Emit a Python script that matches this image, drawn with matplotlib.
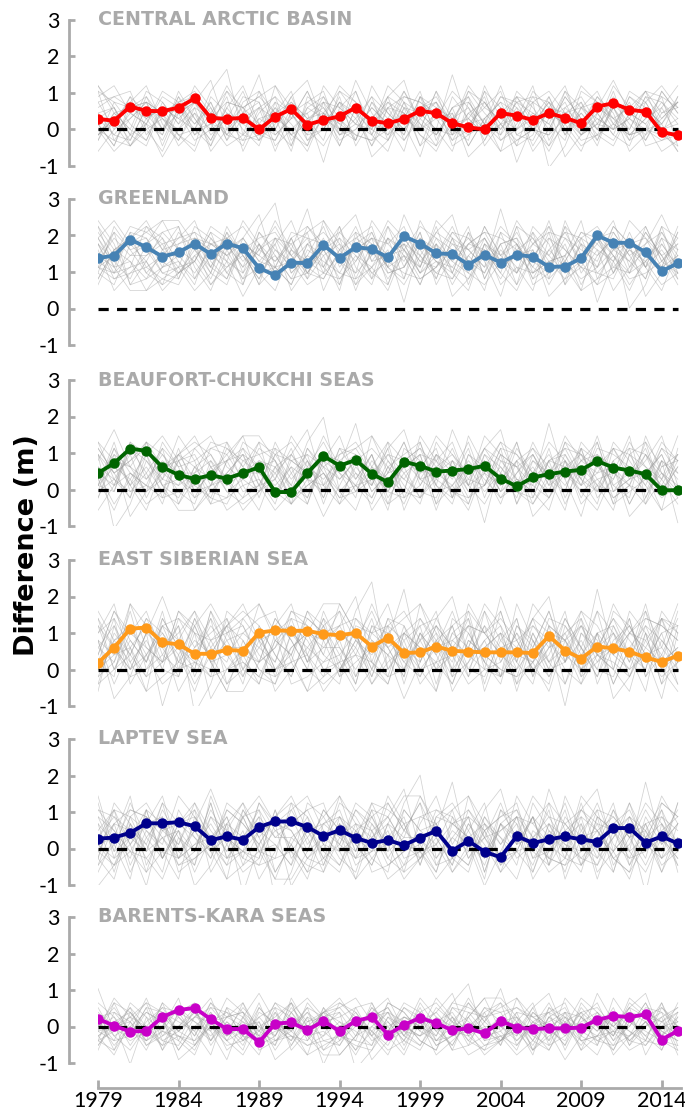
import numpy as np
import matplotlib
matplotlib.use("Agg")
import matplotlib.pyplot as plt

years = list(range(1979, 2016))
xtick_years = [1979, 1984, 1989, 1994, 1999, 2004, 2009, 2014]
regions = ["CENTRAL ARCTIC BASIN", "GREENLAND", "BEAUFORT-CHUKCHI SEAS",
           "EAST SIBERIAN SEA", "LAPTEV SEA", "BARENTS-KARA SEAS"]
colors = ["#ff0000", "#4682b4", "#006400", "#ff9a1a", "#00008b", "#c800c8"]

central = [0.29, 0.24, 0.63, 0.51, 0.50, 0.60, 0.85, 0.32, 0.29, 0.32, 0.00, 0.35, 0.56,
           0.13, 0.26, 0.36, 0.60, 0.24, 0.17, 0.29, 0.51, 0.45, 0.17, 0.06, 0.00, 0.45,
           0.38, 0.26, 0.45, 0.32, 0.17, 0.63, 0.72, 0.54, 0.49, -0.07, -0.16]
greenland = [1.38, 1.45, 1.89, 1.68, 1.42, 1.54, 1.78, 1.49, 1.78, 1.65, 1.11, 0.91, 1.26,
             1.24, 1.74, 1.38, 1.68, 1.63, 1.40, 1.98, 1.78, 1.51, 1.49, 1.20, 1.47, 1.26,
             1.47, 1.42, 1.14, 1.15, 1.38, 2.00, 1.80, 1.80, 1.54, 1.02, 1.24]
beaufort = [0.45, 0.72, 1.12, 1.06, 0.61, 0.40, 0.29, 0.39, 0.30, 0.45, 0.61, -0.07, -0.07,
            0.45, 0.92, 0.65, 0.81, 0.43, 0.20, 0.76, 0.65, 0.49, 0.52, 0.56, 0.65, 0.30,
            0.09, 0.33, 0.42, 0.49, 0.54, 0.78, 0.60, 0.52, 0.42, -0.02, -0.02]
east_siberian = [0.18, 0.60, 1.12, 1.15, 0.74, 0.69, 0.43, 0.43, 0.54, 0.51, 1.01, 1.07, 1.06,
                 1.06, 0.97, 0.94, 1.00, 0.63, 0.87, 0.45, 0.47, 0.63, 0.51, 0.49, 0.47, 0.47,
                 0.47, 0.45, 0.92, 0.52, 0.30, 0.63, 0.58, 0.49, 0.33, 0.21, 0.38]
laptev = [0.27, 0.30, 0.43, 0.69, 0.69, 0.72, 0.61, 0.23, 0.33, 0.24, 0.59, 0.74, 0.74,
          0.59, 0.34, 0.50, 0.29, 0.15, 0.23, 0.09, 0.30, 0.48, -0.06, 0.21, -0.09, -0.24,
          0.34, 0.15, 0.25, 0.33, 0.25, 0.18, 0.56, 0.56, 0.16, 0.33, 0.14]
barents = [0.21, 0.02, -0.14, -0.12, 0.26, 0.45, 0.51, 0.20, -0.07, -0.07, -0.43, 0.08, 0.11,
           -0.10, 0.15, -0.13, 0.15, 0.26, -0.22, 0.04, 0.24, 0.09, -0.10, -0.05, -0.19, 0.15,
           -0.03, -0.07, -0.05, -0.05, -0.03, 0.18, 0.29, 0.26, 0.33, -0.36, -0.12]
series = [central, greenland, beaufort, east_siberian, laptev, barents]

# approximate centre and spread of the grey ensemble members in each panel
member_centre = [0.30, 1.45, 0.45, 0.60, 0.30, 0.00]
member_spread = [0.15, 0.16, 0.17, 0.20, 0.19, 0.13]

# estimated member deviation shapes (tenths)
d1 = [3,-2,4,1,-3,5,0,-4,2,6,-1,3,-5,2,4,-2,7,1,-3,0,5,-4,2,3,-1,6,-2,0,4,-3,2,5,-1,3,-4,1,2]
d2 = [-4,1,-2,5,3,-1,6,2,-3,1,8,-2,3,0,-4,5,1,-2,6,3,-5,2,0,4,-1,-3,5,2,-2,4,0,-4,3,1,5,-2,-1]
d3 = [5,3,-1,-4,2,0,3,7,-2,-5,2,4,1,-3,6,2,-1,4,-4,3,1,-2,8,-1,2,5,-3,-1,2,6,-2,1,-3,4,2,-1,3]
d4 = [-1,-5,2,3,-2,4,-3,1,5,0,-4,6,2,-1,3,-5,2,0,4,7,-2,1,-3,5,3,-1,0,6,-4,1,3,-2,5,-3,0,4,-5]
d5 = [2,4,5,-2,-6,1,3,-1,-2,4,3,-3,0,5,-1,3,-4,6,1,-2,2,4,-1,-3,5,2,-5,3,1,-1,6,3,-2,0,-3,5,1]
d6 = [-6,-2,0,3,1,-3,-5,4,1,-1,2,0,-6,4,2,-2,-4,3,0,5,-1,-3,2,-5,0,3,1,-2,-5,2,-1,4,0,-4,3,-2,-6]
d7 = [0,2,-3,-1,4,2,-2,5,9,-3,0,-2,4,7,-1,0,2,-3,3,1,-2,5,0,2,-4,1,4,-1,3,0,-3,2,7,1,-1,3,0]
d8 = [1,-3,-4,2,0,-2,1,-5,3,2,-3,1,5,-4,-2,3,0,-5,2,-3,4,0,-4,1,3,-2,2,-5,0,3,-3,-1,2,-2,4,0,3]
d9 = [4,6,1,-1,5,3,-1,2,-4,3,5,1,-3,2,0,6,3,-1,-2,4,3,0,5,2,-2,4,3,1,-1,5,2,0,-2,5,3,6,2]
d10 = [-3,0,3,6,-1,-4,2,0,6,1,-2,-4,1,3,5,-3,-2,2,-1,-4,0,3,-2,0,4,-4,-1,4,3,-3,1,-2,4,0,-2,-3,4]
d11 = [-2,-4,-5,0,2,1,-4,-2,0,-4,-3,2,-1,-5,1,-1,-3,-4,-2,1,-3,-5,-1,0,-3,-1,-4,-2,-3,0,-4,-3,-1,-3,-2,-4,-3]
d12 = [6,1,2,4,-2,3,5,1,-1,2,4,6,0,1,3,2,5,-2,4,2,1,3,-1,6,2,0,4,3,5,1,2,3,0,2,5,1,3]
deviations = [d1, d2, d3, d4, d5, d6, d7, d8, d9, d10, d11, d12]

W, H = 685, 1113
fig = plt.figure(figsize=(W / 100, H / 100), dpi=100)

x_left_px, x_right_px = 98, 681
xmax = 2015.2
tops = [20, 199, 380, 560, 739, 917]
ax_h = 146
spine_col = "#aaaaaa"

for i in range(6):
    top = tops[i]
    ax = fig.add_axes([x_left_px / W, 1 - (top + ax_h) / H,
                       (x_right_px - x_left_px) / W, ax_h / H])
    yrs = np.array(years)
    shapes = []
    for d in deviations:
        arr = np.array(d, dtype=float)
        shapes.append(np.roll(arr, i * 3))
        shapes.append(-np.roll(arr[::-1], i * 5))
    for s in shapes:
        ax.plot(yrs, member_centre[i] + member_spread[i] * s, color="#9a9a9a",
                lw=0.55, alpha=0.45, zorder=1)
    ax.plot([1979, 2015], [0, 0], color="black", lw=2.3,
            linestyle=(0, (3.2, 2.6)), zorder=2)
    ax.plot(yrs, series[i], color=colors[i], lw=2.8, marker="o",
            markersize=6.5, zorder=3)
    ax.set_xlim(1979, xmax)
    ax.set_ylim(-1, 3)
    ax.set_yticks([-1, 0, 1, 2, 3])
    ax.set_yticklabels(["-1", "0", "1", "2", "3"])
    for sp in ["top", "right"]:
        ax.spines[sp].set_visible(False)
    ax.spines["left"].set_position(("outward", 21))
    ax.spines["left"].set_bounds(-1, 3)
    ax.spines["left"].set_color(spine_col)
    ax.spines["left"].set_linewidth(2)
    ax.tick_params(axis="y", direction="in", length=4, width=2, color=spine_col, pad=7,
                   labelsize=15.5, labelfontfamily="Lato", labelcolor="black")
    if i < 5:
        ax.spines["bottom"].set_visible(False)
        ax.set_xticks([])
    else:
        ax.spines["bottom"].set_position(("outward", 18))
        ax.spines["bottom"].set_bounds(1979, xmax)
        ax.spines["bottom"].set_color(spine_col)
        ax.spines["bottom"].set_linewidth(2)
        ax.set_xticks(xtick_years)
        ax.set_xticklabels([str(y) for y in xtick_years])
        ax.tick_params(axis="x", direction="in", length=6, width=2, color=spine_col, pad=2,
                       labelsize=15.5, labelfontfamily="Lato", labelcolor="black")
    ax.set_facecolor("none")
    ax.text(1979, 3, regions[i], color="#aaaaaa", fontsize=13.7, fontweight="bold",
            va="center", ha="left", zorder=4)

fig.text(0.04, 0.51, "Difference (m)", rotation=90, fontsize=19.5,
         fontweight="bold", va="center", ha="center")

fig.savefig("out.png", dpi=100)
